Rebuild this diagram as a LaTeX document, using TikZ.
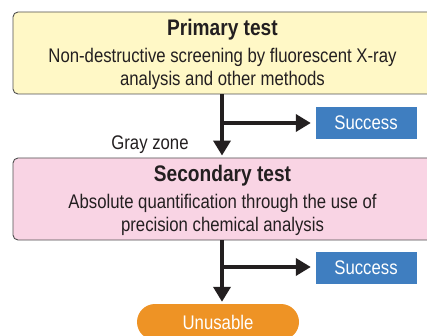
\documentclass[tikz,border=0pt]{standalone}
\usepackage{fontspec}
\setmainfont{Liberation Sans}[FakeStretch=0.85]
\usetikzlibrary{arrows.meta}
\definecolor{tyellow}{RGB}{255,248,198}
\definecolor{tpink}{RGB}{249,212,228}
\definecolor{tblue}{RGB}{63,126,192}
\definecolor{torange}{RGB}{238,147,37}
\definecolor{tink}{RGB}{35,31,32}
\definecolor{tedge}{RGB}{80,80,80}
\newcommand{\ttlfont}{\fontsize{22.5}{26}\selectfont\bfseries}
\newcommand{\txtfont}{\fontsize{19.7}{23}\selectfont}

\begin{document}
\begin{tikzpicture}[
  x=1pt, y=-1pt,
  font=\txtfont,
  >={Triangle[length=15pt, width=17pt]},
  testbox/.style={rounded corners=5pt, draw=tedge, line width=0.9pt, fill=#1,
                  minimum width=419pt, minimum height=82pt, inner sep=0pt},
  boxtext/.style={text=tink, align=center},
  outcome/.style={fill=#1, text=white, minimum width=101pt, minimum height=32pt,
                  inner sep=0pt},
  flow/.style={->, line width=3.6pt, tink}
]
\useasboundingbox (0,0) rectangle (427,336);
\clip (0,0) rectangle (427,336);

% ---- Test stages ----
\node[testbox=tyellow] (prim) at (222.5,53) {};
\node[boxtext] (primtxt) at ([yshift=-1.5pt]prim.center) {%
  {\ttlfont Primary test}\\[4pt]
  Non-destructive screening by fluorescent X-ray\\
  analysis and other methods};

\node[testbox=tpink] (sec) at (222.5,199) {};
\node[boxtext] (sectxt) at ([yshift=-1.5pt]sec.center) {%
  {\ttlfont Secondary test}\\[4pt]
  Absolute quantification through the use of\\
  precision chemical analysis};

% ---- Outcomes ----
\node[outcome=tblue] (succA) at (366,123) {Success};
\node[outcome=tblue] (succB) at (366,268) {Success};
\node[fill=torange, text=white, rounded corners=18pt, minimum width=162pt,
      minimum height=36pt, inner sep=0pt] (unus) at (218,322) {Unusable};

\node[text=tink] (gray) at (150,145) {Gray zone};

% ---- Branch points ----
\coordinate (brA) at (222,123);
\coordinate (brB) at (222,267);

\draw[flow, shorten >=2pt] (prim.south -| brA) -- (sec.north -| brA);
\draw[flow, shorten >=4.5pt] (brA) -- (succA.west |- brA);
\draw[flow, shorten >=2pt] (sec.south -| brB) -- (unus.north -| brB);
\draw[flow, shorten >=4.5pt] (brB) -- (succB.west |- brB);

\end{tikzpicture}
\end{document}
